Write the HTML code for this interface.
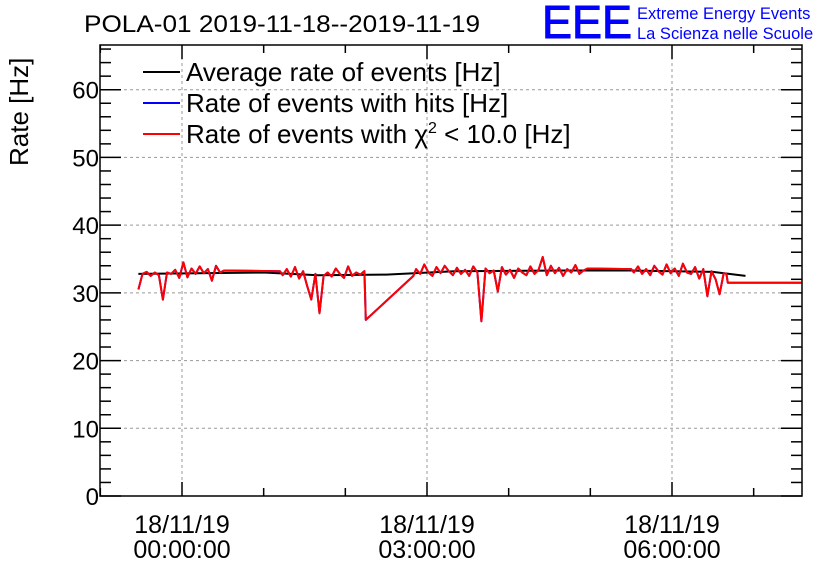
<!DOCTYPE html>
<html><head><meta charset="utf-8"><style>
body{margin:0;background:#fff;}
svg{display:block;font-family:"Liberation Sans",sans-serif;}
</style></head><body>
<svg id="chart" width="836" height="572" viewBox="0 0 836 572">
<rect width="836" height="572" fill="#fff"/>
<text x="84" y="32" font-size="24" textLength="396" lengthAdjust="spacingAndGlyphs">POLA-01 2019-11-18--2019-11-19</text>
<text x="542" y="38" font-size="46" fill="#0000ff" stroke="#0000ff" stroke-width="1" textLength="90" lengthAdjust="spacingAndGlyphs">EEE</text>
<text x="637" y="19" font-size="16.5" fill="#0000ff">Extreme Energy Events</text>
<text x="637" y="39" font-size="16.5" fill="#0000ff">La Scienza nelle Scuole</text>
<text transform="translate(28,166) rotate(-90)" font-size="26">Rate [Hz]</text>
<g id="grid"></g>
<g id="series"></g>
<rect x="100" y="45" width="702" height="451" fill="none" stroke="#000" stroke-width="1.5"/>
<g id="axes"></g>
<g font-size="26">
 <line x1="143" y1="72" x2="180" y2="72" stroke="#000" stroke-width="2"/>
 <text x="186" y="81">Average rate of events [Hz]</text>
 <line x1="143" y1="103" x2="180" y2="103" stroke="#0000ff" stroke-width="2"/>
 <text x="186" y="112">Rate of events with hits [Hz]</text>
 <line x1="143" y1="134" x2="180" y2="134" stroke="#ff0000" stroke-width="2"/>
 <text x="186" y="143">Rate of events with χ<tspan font-size="16" dy="-10">2</tspan><tspan dy="10"> &lt; 10.0 [Hz]</tspan></text>
</g>
</svg>
<script>
const yTicks=[0,10,20,30,40,50,60];
const xTickMinutes=[0,180,360];
const xTickLabels=[["18/11/19","00:00:00"],["18/11/19","03:00:00"],["18/11/19","06:00:00"]];
const blackT=[-32,60,100,150,200,280,330,390,414];
const blackV=[32.8,33.0,32.6,32.7,33.2,33.3,33.3,33.1,32.5];
const segA=[30.5,32.8,33.1,32.5,33.0,32.6,29.0,33.0,32.8,33.4,32.2,34.5,32.3,33.6,32.8,33.9,32.9,33.5,31.8,34.0,33.0,33.3];
const segB=[32.6,33.5,32.4,33.8,32.1,33.2,31.0,29.0,32.8,27.0,32.5,33.0,32.4,33.6,32.8,32.2,33.9,32.5,33.0,32.7,33.2];
const segC=[33.5,32.8,34.2,33.0,32.5,33.8,32.9,34.0,33.2,32.6,33.7,32.8,33.4,32.5,33.9,33.0,25.8,33.6,32.9,33.3,30.2,33.8,32.7,33.4,32.2,33.6,33.0,32.6,33.9,32.8,33.4,35.3,32.6,34.0,32.9,33.7,32.5,33.5,33.0,34.1,32.8,33.3,33.6];
const segD=[33.0,33.9,32.8,33.5,32.6,34.0,33.2,32.7,34.2,32.9,33.6,32.5,34.3,33.0,32.8,33.8,32.1,33.5,29.5,33.2,32.0,29.8,32.9];
const segStarts=[-32,74,172,332];
const NS="http://www.w3.org/2000/svg";
const X0=100,X1=802,Y0=496,Y1=45;
const xs=t=>182+t*245/180;
const ys=v=>496-v*(451/66.6);
function mk(tag,attrs,parent){const e=document.createElementNS(NS,tag);for(const k in attrs)e.setAttribute(k,attrs[k]);parent.appendChild(e);return e;}
const grid=document.getElementById('grid'),axes=document.getElementById('axes'),series=document.getElementById('series');
let rT=[],rV=[];
[segA,segB,segC,segD].forEach((s,i)=>{s.forEach((v,j)=>{rT.push(segStarts[i]+3*j);rV.push(v);});
 if(i==0){rT.push(72);rV.push(33.2);}
 if(i==1){rT.push(135);rV.push(26);rT.push(170);rV.push(32.5);}
 if(i==2){rT.push(330);rV.push(33.5);}
 if(i==3){rT.push(400);rV.push(32.8);rT.push(401);rV.push(31.5);rT.push(455);rV.push(31.5);}
});
yTicks.forEach(v=>{if(v>0){const l=mk('line',{x1:X0,x2:X1,y1:ys(v),y2:ys(v),stroke:'#999','stroke-dasharray':'3,3'},grid);

}});
xTickMinutes.forEach(t=>{const l=mk('line',{x1:xs(t),x2:xs(t),y1:Y1,y2:Y0,stroke:'#999','stroke-dasharray':'3,3'},grid);

});
function path(T,V,color,name,w){const d=T.map((t,i)=>(i?'L':'M')+xs(t).toFixed(1)+','+ys(V[i]).toFixed(1)).join('');
const p=mk('path',{d:d,fill:'none',stroke:color,'stroke-width':w,'stroke-linejoin':'round'},series);

}
path(blackT,blackV,'#000','average-rate-line',2);
path(rT,rV,'#0000ff','hits-rate-line',2);
path(rT,rV,'#ff0000','chi2-rate-line',2);
for(let v=0;v<=66;v+=2){const maj=v%10==0,L=maj?21:11;
mk('line',{x1:X0,x2:X0+L,y1:ys(v),y2:ys(v),stroke:'#000','stroke-width':1.5},axes);
mk('line',{x1:X1,x2:X1-L,y1:ys(v),y2:ys(v),stroke:'#000','stroke-width':1.5},axes);}
yTicks.forEach(v=>{const t=mk('text',{x:99,y:ys(v)+9,'text-anchor':'end','font-size':24},axes);t.textContent=v;

});
for(let t=-60;t<=480;t+=60){const x=xs(t);if(x<X0||x>X1)continue;const maj=t%180==0,L=maj?14:8;
mk('line',{x1:x,x2:x,y1:Y0,y2:Y0-L,stroke:'#000','stroke-width':1.5},axes);
mk('line',{x1:x,x2:x,y1:Y1,y2:Y1+L,stroke:'#000','stroke-width':1.5},axes);}
xTickMinutes.forEach((t,i)=>{xTickLabels[i].forEach((s,j)=>{const e=mk('text',{x:xs(t),y:533+j*25,'text-anchor':'middle','font-size':25},axes);e.textContent=s;

});});
</script>
</body></html>
